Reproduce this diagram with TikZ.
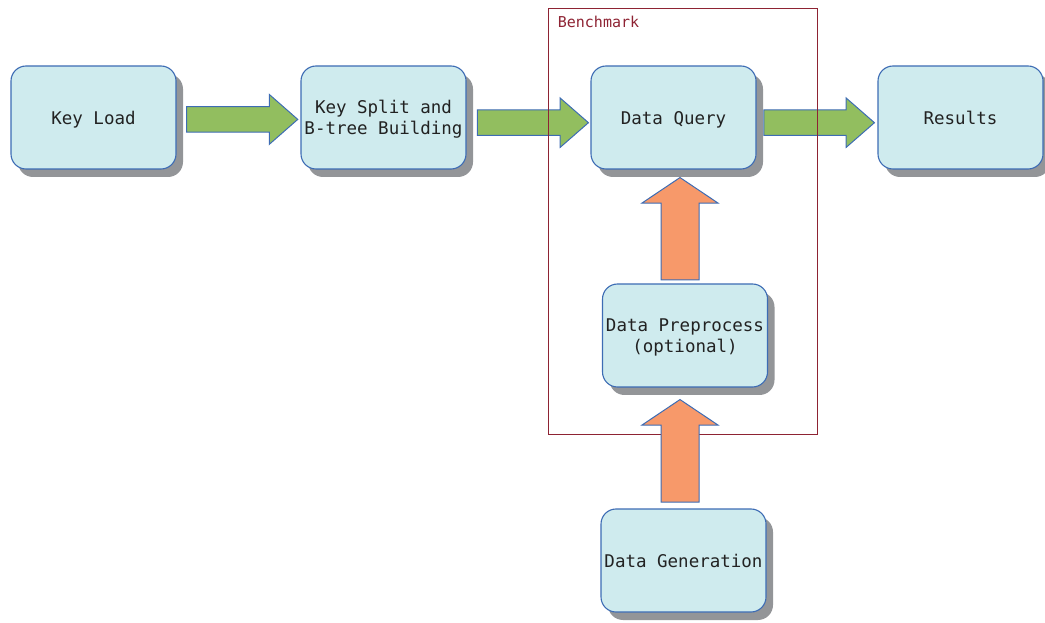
\documentclass[tikz,border=0pt]{standalone}
\usepackage{fontspec}
\setmonofont{DejaVu Sans Mono}
\usetikzlibrary{calc,shadows}
\definecolor{boxfill}{HTML}{CFEBEE}
\definecolor{boxline}{HTML}{3D6CB4}
\definecolor{shadowc}{HTML}{939598}
\definecolor{greenf}{HTML}{92BE5F}
\definecolor{orangef}{HTML}{F7996A}
\definecolor{framec}{HTML}{8E2333}
\definecolor{txt}{HTML}{222222}
\begin{document}
\begin{tikzpicture}[x=1pt,y=1pt,
  stepbox/.style={draw=boxline, line width=1.1pt, fill=boxfill, rounded corners=15pt,
    minimum width=165pt, minimum height=103pt, inner sep=0pt,
    drop shadow={shadow xshift=7pt, shadow yshift=-8pt, fill=shadowc, opacity=1}},
  boxtext/.style={align=center, inner sep=0pt, yshift=-2pt,
    font=\ttfamily\fontsize{17.5}{21}\selectfont, text=txt},
  onetext/.style={inner sep=0pt, yshift=-2pt, text height=13.3pt, text depth=4.1pt,
    font=\ttfamily\fontsize{17.5}{21}\selectfont, text=txt},
  garrow/.style={draw=boxline, line width=1pt, fill=greenf, line join=miter},
  oarrow/.style={draw=boxline, line width=1pt, fill=orangef, line join=miter},
  benchframe/.style={draw=framec, line width=1.1pt, minimum width=269pt, minimum height=426pt, inner sep=0pt},
  benchtext/.style={anchor=base west, text=framec, font=\ttfamily\fontsize{15}{18}\selectfont, inner sep=0pt}]
\useasboundingbox (0,0) rectangle (1045,622);

\node[stepbox, label={[onetext]center:Key Load}] (kl) at (93.5,504.5) {};
\node[stepbox, label={[boxtext]center:Key Split and\\B-tree Building}] (ks) at (383.5,504.5) {};
\node[stepbox, label={[onetext]center:Data Query}] (dq) at (673.5,504.5) {};
\node[stepbox, label={[onetext]center:Results}] (res) at (960.5,504.5) {};
\node[stepbox, label={[boxtext]center:Data Preprocess\\(optional)}] (dp) at (685,286.5) {};
\node[stepbox, label={[onetext]center:Data Generation}] (dg) at (683.5,61.5) {};

% green arrows
\draw[garrow] let \p1=($(kl.east)+(10,-1.9)$), \p2=($(ks.west)+(-2.7,-1.9)$) in
  (\x1,\y1+12.8pt) -- (\x2-28.5pt,\y1+12.8pt) -- (\x2-28.5pt,\y1+25pt) -- (\x2,\y1)
  -- (\x2-28.5pt,\y1-25pt) -- (\x2-28.5pt,\y1-12.8pt) -- (\x1,\y1-12.8pt) -- cycle;
\draw[garrow] let \p1=($(ks.east)+(10.7,-5.2)$), \p2=($(dq.west)+(-2,-5.2)$) in
  (\x1,\y1+12.8pt) -- (\x2-28.3pt,\y1+12.8pt) -- (\x2-28.3pt,\y1+24.7pt) -- (\x2,\y1)
  -- (\x2-28.3pt,\y1-24.7pt) -- (\x2-28.3pt,\y1-12.8pt) -- (\x1,\y1-12.8pt) -- cycle;
\draw[garrow] let \p1=($(dq.east)+(7.3,-5.2)$), \p2=($(res.west)+(-3,-5.2)$) in
  (\x1,\y1+12.8pt) -- (\x2-28.3pt,\y1+12.8pt) -- (\x2-28.3pt,\y1+24.7pt) -- (\x2,\y1)
  -- (\x2-28.3pt,\y1-24.7pt) -- (\x2-28.3pt,\y1-12.8pt) -- (\x1,\y1-12.8pt) -- cycle;

% benchmark frame
\node[benchframe] (bench) at (683,400.8) {};
\node[benchtext] (benchlabel) at ($(bench.north west)+(9.7,-19.5)$) {Benchmark};

% orange arrows
\draw[oarrow] let \p1=($(dp.north)+(-5,3.5)$), \p2=($(dq.south)+(6.5,-8)$) in
  (\x2-19pt,\y1) -- (\x2-19pt,\y2-25.5pt) -- (\x2-38pt,\y2-25.5pt) -- (\x2,\y2)
  -- (\x2+38pt,\y2-25.5pt) -- (\x2+19pt,\y2-25.5pt) -- (\x2+19pt,\y1) -- cycle;
\draw[oarrow] let \p1=($(dg.north)+(-3.5,6.3)$), \p2=($(dp.south)+(-5,-12)$) in
  (\x2-19pt,\y1) -- (\x2-19pt,\y2-25.5pt) -- (\x2-38pt,\y2-25.5pt) -- (\x2,\y2)
  -- (\x2+38pt,\y2-25.5pt) -- (\x2+19pt,\y2-25.5pt) -- (\x2+19pt,\y1) -- cycle;
\end{tikzpicture}
\end{document}
